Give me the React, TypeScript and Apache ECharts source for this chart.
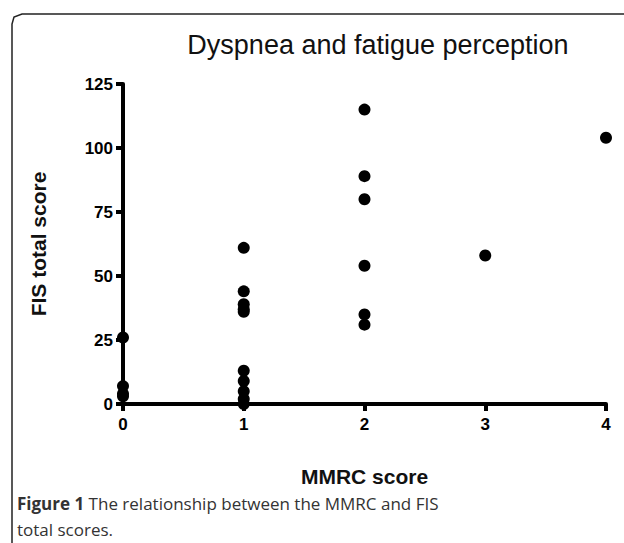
import React, { useEffect, useRef } from "react";
import * as echarts from "echarts";

const xTicks = [0, 1, 2, 3, 4];
const yTicks = [0, 25, 50, 75, 100, 125];
const mmrc0 = [26, 7, 4, 3];
const mmrc1 = [61, 44, 39, 37, 36, 13, 9, 5, 2, 0];
const mmrc2 = [115, 89, 80, 54, 35, 31];
const mmrc3 = [58];
const mmrc4 = [104];

export default function App() {
  const ref = useRef<HTMLDivElement>(null);
  useEffect(() => {
    const chart = echarts.init(ref.current!, null, { renderer: "svg" });
    const groups = [mmrc0, mmrc1, mmrc2, mmrc3, mmrc4];
    const data: number[][] = [];
    groups.forEach((g, i) => g.forEach((v) => data.push([xTicks[i], v])));
    const font = "'Liberation Sans', Arial, sans-serif";
    chart.setOption({
      animation: false,
      title: {
        text: "Dyspnea and fatigue perception",
        left: 373, top: 26, textAlign: "center",
        textStyle: { fontFamily: font, fontSize: 27, fontWeight: "normal", color: "#111" },
      },
      grid: { left: 123, right: 18, top: 84, bottom: 139 },
      xAxis: {
        type: "value", min: 0, max: 4, interval: 1,
        name: "MMRC score", nameLocation: "middle", nameGap: 62,
        nameTextStyle: { fontFamily: font, fontSize: 21, fontWeight: "bold", color: "#111" },
        axisLine: { lineStyle: { color: "#000", width: 4 } },
        axisTick: { show: true, length: 7, lineStyle: { color: "#000", width: 4 } },
        axisLabel: { fontFamily: font, fontSize: 17, fontWeight: "bold", color: "#000", margin: 12 },
        splitLine: { show: false },
      },
      yAxis: {
        type: "value", min: 0, max: 125, interval: 25,
        name: "FIS total score", nameLocation: "middle", nameGap: 74,
        nameTextStyle: { fontFamily: font, fontSize: 21, fontWeight: "bold", color: "#111" },
        axisLine: { show: true, lineStyle: { color: "#000", width: 4 } },
        axisTick: { show: true, length: 7, lineStyle: { color: "#000", width: 4 } },
        axisLabel: { fontFamily: font, fontSize: 17, fontWeight: "bold", color: "#000", margin: 10 },
        splitLine: { show: false },
      },
      series: [{
        type: "scatter", data, symbol: "circle", symbolSize: 12,
        itemStyle: { color: "#000", opacity: 1 }, clip: false,
      }],
      graphic: [
        { type: "polyline", shape: { points: [[12, 543], [12, 24], [14, 17], [22, 14], [624, 14]] },
          style: { stroke: "#222", lineWidth: 1.5, fill: "none" } },
        { type: "text", left: 17, top: 490, style: {
          text: "{b|Figure 1} The relationship between the MMRC and FIS\ntotal scores.",
          fontFamily: "'Open Sans', sans-serif", fontSize: 17, fontWeight: "normal", lineHeight: 26, fill: "#333",
          rich: { b: { fontWeight: "bold", fontSize: 17, fill: "#333", fontFamily: "'Open Sans', sans-serif" } },
        } },
      ],
    });
    return () => chart.dispose();
  }, []);
  return <div ref={ref} style={{ position: "fixed", left: 0, top: 0, width: 624, height: 543, background: "#fff" }} />;
}
